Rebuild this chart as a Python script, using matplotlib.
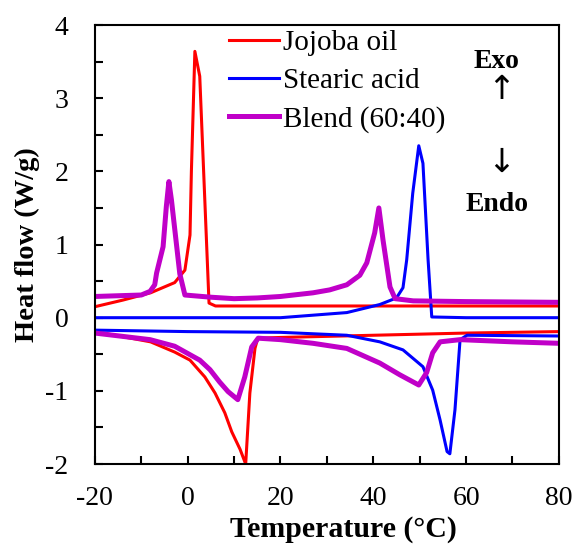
import matplotlib
matplotlib.use("Agg")
import matplotlib.pyplot as plt

plt.rcParams['font.family'] = ['Liberation Serif', 'DejaVu Serif']
plt.rcParams['axes.unicode_minus'] = False

# Jojoba oil, cooling (exo, upper) and heating (endo, lower)
jo_cool_t = [-20, -14, -8, -2.8, -0.6, 0.5, 0.8, 1.55, 2.6, 4.6, 6, 20, 40, 60, 80]
jo_cool_y = [0.15, 0.24, 0.34, 0.48, 0.65, 1.13, 2.0, 3.64, 3.3, 0.2, 0.16, 0.16, 0.16, 0.16, 0.16]
jo_heat_t = [-20, -8, -2.8, 0.5, 3.7, 5.9, 8, 9.5, 11.3, 12.5, 13.4, 14.5, 15.1, 20, 40, 60, 80]
jo_heat_y = [-0.19, -0.33, -0.47, -0.58, -0.81, -1.03, -1.3, -1.56, -1.8, -2.0, -1.03, -0.42, -0.28,
             -0.27, -0.24, -0.21, -0.19]

# Stearic acid
sa_cool_t = [-20, 0, 20, 34.3, 41.4, 45, 46.4, 47.2, 48.5, 49.8, 50.7, 51.8, 52.6, 60, 80]
sa_cool_y = [0.0, 0.0, 0.0, 0.07, 0.18, 0.27, 0.41, 0.79, 1.7, 2.35, 2.11, 0.8, 0.01, 0.0, 0.0]
sa_heat_t = [-20, 0, 20, 34.3, 41.4, 46.4, 50.7, 52.8, 54.4, 55.9, 56.5, 57.6, 58.7, 60.2, 80]
sa_heat_y = [-0.17, -0.19, -0.2, -0.24, -0.33, -0.44, -0.67, -0.99, -1.4, -1.83, -1.86, -1.26, -0.3,
             -0.24, -0.25]

# Blend (60:40)
bl_cool_t = [-20, -10, -8.1, -7.1, -6.7, -5.3, -4.6, -4.05, -3.5, -1.7, -0.6, 5, 10, 15, 20, 27, 30.6,
             34.3, 37.1, 38.6, 40.3, 41.2, 42.1, 43.6, 44.7, 48.6, 60, 80]
bl_cool_y = [0.29, 0.31, 0.36, 0.45, 0.61, 0.97, 1.52, 1.86, 1.61, 0.6, 0.31, 0.28, 0.26, 0.27, 0.29,
             0.34, 0.38, 0.45, 0.58, 0.75, 1.16, 1.5, 1.06, 0.42, 0.26, 0.23, 0.22, 0.21]
bl_heat_t = [-20, -8.1, -2.8, 2.6, 4.8, 6.9, 8.7, 10.8, 12.3, 13.8, 15.2, 20, 27, 34.3, 41.4, 45.7,
             49.8, 51.5, 52.8, 54.4, 58.7, 70, 80]
bl_heat_y = [-0.21, -0.3, -0.39, -0.58, -0.71, -0.88, -1.01, -1.12, -0.81, -0.4, -0.28, -0.3, -0.35,
             -0.42, -0.62, -0.78, -0.92, -0.75, -0.48, -0.33, -0.3, -0.33, -0.35]

fig = plt.figure(figsize=(5.75, 5.44), dpi=100)
ax = fig.add_axes([0.165, 0.147, 0.807, 0.807])

red, blue, mag = '#ff0000', '#0000ff', '#c000c8'
ax.plot(jo_cool_t, jo_cool_y, color=red, lw=2.2, label='Jojoba oil')
ax.plot(jo_heat_t, jo_heat_y, color=red, lw=2.2)
ax.plot(sa_cool_t, sa_cool_y, color=blue, lw=2.2, label='Stearic acid')
ax.plot(sa_heat_t, sa_heat_y, color=blue, lw=2.2)
ax.plot(bl_cool_t, bl_cool_y, color=mag, lw=3.6, label='Blend (60:40)')
ax.plot(bl_heat_t, bl_heat_y, color=mag, lw=3.6)

ax.set_xlim(-20, 80)
ax.set_ylim(-2, 4)
ax.set_xticks(range(-20, 81, 20))
ax.set_xticks(range(-10, 80, 20), minor=True)
ax.set_yticks(range(-2, 5))
ax.set_yticks([-1.5, -0.5, 0.5, 1.5, 2.5, 3.5], minor=True)
ax.tick_params(which='both', direction='in', labelsize=20, width=1.5, length=6)
ax.tick_params(axis='y', pad=19)
ax.tick_params(axis='x', pad=16)
for s in ax.spines.values():
    s.set_linewidth(1.5)

ax.set_xlabel('Temperature (°C)', fontsize=21.5, fontweight='bold')
ax.xaxis.set_label_coords(0.535, -0.118)
ax.set_ylabel('Heat flow (W/g)', fontsize=20.5, fontweight='bold', labelpad=4)

ax.legend(loc='upper left', bbox_to_anchor=(0.29, 0.99), frameon=False, fontsize=21,
          handlelength=1.7, handletextpad=0.15, labelspacing=0.4, borderpad=0, borderaxespad=0)

ax.text(0.866, 0.918, 'Exo', transform=ax.transAxes, ha='center', va='center',
        fontsize=20, fontweight='bold')
ax.text(0.875, 0.852, '↑', transform=ax.transAxes, ha='center', va='center',
        fontsize=24, family='DejaVu Sans')
ax.text(0.875, 0.688, '↓', transform=ax.transAxes, ha='center', va='center',
        fontsize=24, family='DejaVu Sans')
ax.text(0.866, 0.592, 'Endo', transform=ax.transAxes, ha='center', va='center',
        fontsize=20, fontweight='bold')

fig.savefig('out.png', dpi=100)
